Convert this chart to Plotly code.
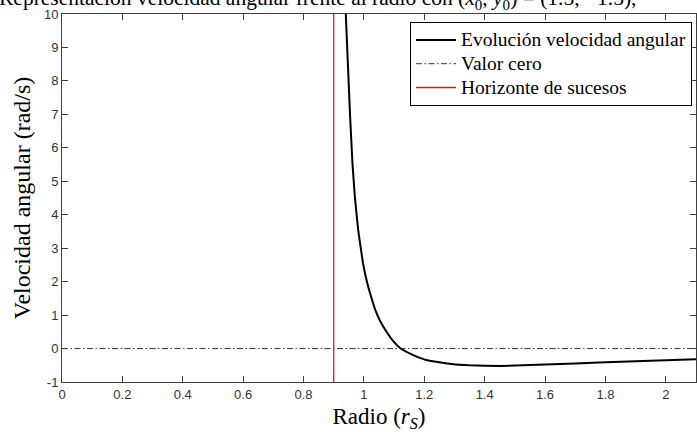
import plotly.graph_objects as go

# ---- data ----
radio = [0.938, 0.940, 0.947, 0.954, 0.962, 0.970, 0.981, 0.997, 1.010, 1.024, 1.038,
         1.055, 1.075, 1.097, 1.122, 1.160, 1.210, 1.290, 1.350, 1.450, 1.600, 1.800, 2.000, 2.100]
velocidad = [10.6, 10.0, 8.5, 7.0, 5.55, 4.55, 3.55, 2.55, 2.0, 1.55, 1.15,
             0.80, 0.50, 0.22, 0.0, -0.18, -0.35, -0.46, -0.50, -0.52, -0.48, -0.41, -0.35, -0.32]
cero_x = [0, 2.1]
cero_y = [0, 0]
horizonte_x = [0.9, 0.9]
horizonte_y = [-1, 10]
x_ticks = [0, 0.2, 0.4, 0.6, 0.8, 1, 1.2, 1.4, 1.6, 1.8, 2]
x_ticklabels = ["0", "0.2", "0.4", "0.6", "0.8", "1", "1.2", "1.4", "1.6", "1.8", "2"]
y_ticks = [-1, 0, 1, 2, 3, 4, 5, 6, 7, 8, 9, 10]
y_ticklabels = ["-1", "0", "1", "2", "3", "4", "5", "6", "7", "8", "9", "10"]
series_names = ["Evolución velocidad angular", "Valor cero", "Horizonte de sucesos"]

SERIF = "Liberation Serif"
SANS = "Liberation Sans"
AX = "#404040"


def leg(name):
    return '<span style="font-size:19.5px">' + name + '</span>'


fig = go.Figure()
fig.add_trace(go.Scatter(x=radio, y=velocidad, mode="lines",
                         line=dict(color="black", width=2, shape="spline", smoothing=0.3),
                         name=leg(series_names[0])))
fig.add_trace(go.Scatter(x=cero_x, y=cero_y, mode="lines",
                         line=dict(color="black", width=0.8, dash="6px,2.5px,1.5px,2.5px"),
                         name=leg(series_names[1])))
fig.add_trace(go.Scatter(x=horizonte_x, y=horizonte_y, mode="lines",
                         line=dict(color="#e8141b", width=1.3),
                         name=leg(series_names[2])))

L, R, T, B = 62, 1, 14, 50
W, H = 697, 432
pw = W - L - R
ph = H - T - B

fig.update_layout(
    width=W, height=H,
    margin=dict(l=L, r=R, t=T, b=B, pad=0, autoexpand=False),
    paper_bgcolor="white", plot_bgcolor="white",
    showlegend=True,
    legend=dict(
        x=(410 - L) / pw, y=(H - B - 22) / ph, xanchor="left", yanchor="top",
        bgcolor="white", bordercolor="black", borderwidth=1,
        font=dict(family=SERIF, size=16, color="black"),
        tracegroupgap=0, itemwidth=40,
    ),
    xaxis=dict(
        range=[0, 2.1], tickvals=x_ticks, ticktext=x_ticklabels,
        showgrid=False, zeroline=False, automargin=False,
        showline=True, linecolor=AX, linewidth=1, mirror="ticks",
        ticks="inside", ticklen=6, tickcolor=AX, tickwidth=1,
        tickfont=dict(family=SANS, size=13, color="#333333"),
        title=dict(text="Radio (<i>r</i><sub><i>S</i></sub>)",
                   font=dict(family=SERIF, size=23, color="black"), standoff=7),
    ),
    yaxis=dict(
        range=[-1, 10], tickvals=y_ticks, ticktext=y_ticklabels,
        showgrid=False, zeroline=False, automargin=False,
        showline=True, linecolor=AX, linewidth=1, mirror="ticks",
        ticks="inside", ticklen=6, tickcolor=AX, tickwidth=1,
        tickfont=dict(family=SANS, size=13, color="#333333"),
        title=dict(text="Velocidad angular (rad/s)",
                   font=dict(family=SERIF, size=24, color="black"), standoff=6),
    ),
)

fig.add_annotation(
    text="Representación velocidad angular frente al radio con (<i>x̂</i><sub>0</sub>, <i>ŷ</i><sub>0</sub>) = (1.5, −1.5),",
    xref="paper", yref="paper", x=(-3 - L) / pw, y=1,
    xanchor="left", yanchor="bottom", showarrow=False, yshift=-1,
    font=dict(family=SERIF, size=21.5, color="black"),
)

fig.write_html(
    "out.html",
    config={"displayModeBar": False},
    post_script="document.body.style.margin='0';document.body.style.overflow='hidden';",
)
